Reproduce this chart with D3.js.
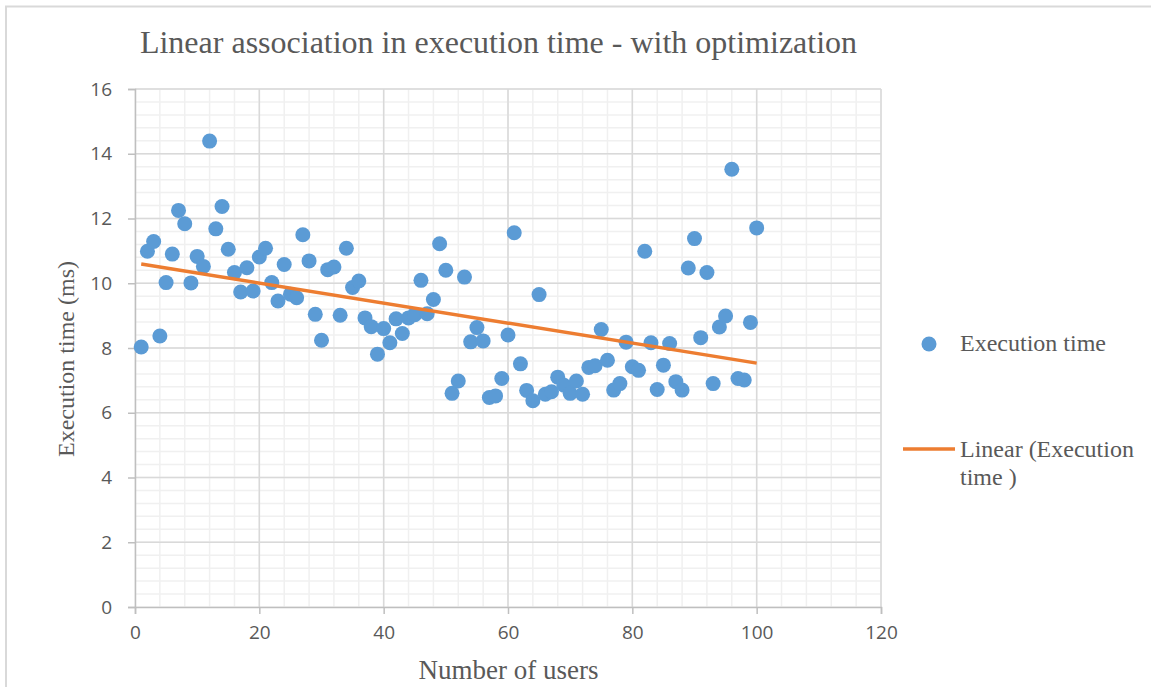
<!DOCTYPE html>
<html>
<head>
<meta charset="utf-8">
<script src="https://cdn.jsdelivr.net/npm/d3@7/dist/d3.min.js"></script>
<style>
  html, body { margin: 0; padding: 0; background: #fff; }
  svg { display: block; }
</style>
</head>
<body>
<svg id="chart" width="1151" height="687"></svg>
<script>
// Number of concurrent users (x) and measured execution time in ms (y)
const users = d3.range(1, 101);
const execTime = [
  8.03, 10.99, 11.29, 8.37, 10.02, 10.9, 12.25, 11.84, 10.01, 10.83,
  10.52, 14.39, 11.68, 12.37, 11.05, 10.33, 9.73, 10.48, 9.76, 10.81,
  11.08, 10.02, 9.45, 10.58, 9.66, 9.55, 11.5, 10.69, 9.04, 8.24,
  10.42, 10.5, 9.01, 11.08, 9.87, 10.07, 8.93, 8.66, 7.81, 8.6,
  8.16, 8.9, 8.45, 8.93, 9.03, 10.09, 9.06, 9.5, 11.22, 10.4,
  6.6, 6.98, 10.19, 8.19, 8.63, 8.22, 6.47, 6.52, 7.06, 8.4,
  11.56, 7.51, 6.69, 6.37, 9.65, 6.57, 6.65, 7.1, 6.85, 6.6,
  6.98, 6.57, 7.4, 7.45, 8.57, 7.62, 6.7, 6.9, 8.18, 7.42,
  7.31, 10.99, 8.16, 6.72, 7.47, 8.14, 6.96, 6.7, 10.47, 11.38,
  8.32, 10.33, 6.9, 8.65, 8.99, 13.52, 7.06, 7.01, 8.79, 11.71
];
const xTicks = [0, 20, 40, 60, 80, 100, 120];
const yTicks = [0, 2, 4, 6, 8, 10, 12, 14, 16];

const titleText = "Linear association in execution time - with optimization";
const xTitle = "Number of users";
const yTitle = "Execution time (ms)";
const seriesName = "Execution time";
const trendName = ["Linear (Execution", "time )"];

const points = users.map((u, i) => ({ x: u, y: execTime[i] }));

// least-squares fit for the trendline
const mx = d3.mean(users), my = d3.mean(execTime);
const sxy = d3.sum(points, p => (p.x - mx) * (p.y - my));
const sxx = d3.sum(points, p => (p.x - mx) * (p.x - mx));
const slope = sxy / sxx, intercept = my - slope * mx;
const xExt = d3.extent(users);
const trend = xExt.map(x => ({ x, y: intercept + slope * x }));

const svg = d3.select("#chart");
const W = 1151, H = 687;
const plot = { left: 135, right: 881, top: 89, bottom: 607 };

const serif = "'Liberation Serif', 'Times New Roman', serif";
const sans = "'Open Sans', 'Liberation Sans', sans-serif";
const textCol = "#595959";

// outer chart frame
svg.append("path")
  .attr("d", `M6,${H + 5} V6.5 H${W + 5}`)
  .attr("fill", "none").attr("stroke", "#d9d9d9").attr("stroke-width", 2);

const x = d3.scaleLinear().domain([0, 120]).range([plot.left, plot.right]);
const y = d3.scaleLinear().domain([0, 16]).range([plot.bottom, plot.top]);

// minor gridlines (every 4 users, every 0.4 ms)
const g = svg.append("g");
g.append("g").selectAll("line").data(d3.range(0, 121, 4))
  .join("line")
  .attr("x1", d => x(d)).attr("x2", d => x(d))
  .attr("y1", plot.top).attr("y2", plot.bottom)
  .attr("stroke", "#f0f0f0").attr("stroke-width", 1.5);
g.append("g").selectAll("line").data(d3.range(0, 41).map(i => i * 0.4))
  .join("line")
  .attr("y1", d => y(d)).attr("y2", d => y(d))
  .attr("x1", plot.left).attr("x2", plot.right)
  .attr("stroke", "#f0f0f0").attr("stroke-width", 1.5);

// major gridlines
g.append("g").selectAll("line").data(xTicks.slice(1))
  .join("line")
  .attr("x1", d => x(d)).attr("x2", d => x(d))
  .attr("y1", plot.top).attr("y2", plot.bottom)
  .attr("stroke", "#d9d9d9").attr("stroke-width", 1.5);
g.append("g").selectAll("line").data(yTicks.slice(1))
  .join("line")
  .attr("y1", d => y(d)).attr("y2", d => y(d))
  .attr("x1", plot.left).attr("x2", plot.right)
  .attr("stroke", "#d9d9d9").attr("stroke-width", 1.5);

// axes
const xAxis = d3.axisBottom(x).tickValues(xTicks).tickSize(7).tickPadding(12);
const yAxis = d3.axisLeft(y).tickValues(yTicks).tickSize(7).tickPadding(16);

const gx = svg.append("g").attr("transform", `translate(0,${plot.bottom})`).call(xAxis);
const gy = svg.append("g").attr("transform", `translate(${plot.left},0)`).call(yAxis);
[gx, gy].forEach(a => {
  a.select(".domain").attr("stroke", "#bfbfbf").attr("stroke-width", 1.5);
  a.selectAll(".tick line").attr("stroke", "#bfbfbf").attr("stroke-width", 1.5);
  a.selectAll(".tick text")
    .attr("fill", textCol)
    .style("font-family", sans)
    .style("font-size", "19px");
});

// scatter points
svg.append("g").selectAll("circle").data(points)
  .join("circle")
  .attr("cx", d => x(d.x)).attr("cy", d => y(d.y))
  .attr("r", 7.5)
  .attr("fill", "#5b9bd5");

// linear trendline
svg.append("path")
  .datum(trend)
  .attr("d", d3.line().x(d => x(d.x)).y(d => y(d.y)))
  .attr("fill", "none").attr("stroke", "#ed7d31").attr("stroke-width", 3.5);

// title
svg.append("text")
  .attr("x", (140 + 857) / 2).attr("y", 53)
  .attr("text-anchor", "middle")
  .attr("fill", textCol)
  .style("font-family", serif).style("font-size", "32px")
  .text(titleText);

// axis titles
svg.append("text")
  .attr("x", (420 + 597) / 2).attr("y", 679)
  .attr("text-anchor", "middle")
  .attr("fill", textCol)
  .style("font-family", serif).style("font-size", "27px")
  .text(xTitle);

svg.append("text")
  .attr("transform", `translate(74,${359}) rotate(-90)`)
  .attr("text-anchor", "middle")
  .attr("fill", textCol)
  .style("font-family", serif).style("font-size", "24px")
  .text(yTitle);

// legend
const lg = svg.append("g");
lg.append("circle").attr("cx", 929).attr("cy", 344).attr("r", 7.5).attr("fill", "#5b9bd5");
lg.append("text").attr("x", 960).attr("y", 351)
  .attr("fill", textCol).style("font-family", serif).style("font-size", "24px")
  .text(seriesName);
lg.append("line").attr("x1", 903).attr("x2", 955).attr("y1", 449).attr("y2", 449)
  .attr("stroke", "#ed7d31").attr("stroke-width", 3.5);
lg.selectAll(".tl").data(trendName).join("text")
  .attr("x", 960).attr("y", (d, i) => 457 + i * 28)
  .attr("fill", textCol).style("font-family", serif).style("font-size", "24px")
  .text(d => d);
</script>
</body>
</html>
